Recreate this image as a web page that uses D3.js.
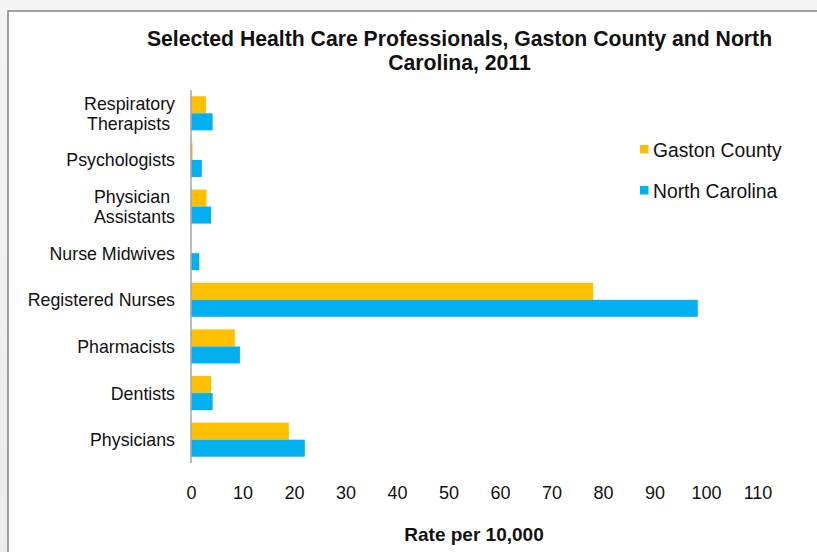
<!DOCTYPE html>
<html>
<head>
<meta charset="utf-8">
<script src="https://cdn.jsdelivr.net/npm/d3@7"></script>
<style>
  html, body { margin: 0; padding: 0; background: #ffffff; }
  svg { display: block; font-family: "Liberation Sans", Arial, sans-serif; }
  .cat { white-space: pre; }
</style>
</head>
<body>
<svg id="chart" width="817" height="552"></svg>
<script>
// Professions, listed top to bottom
const categories = [
  "Respiratory Therapists",
  "Psychologists",
  "Physician Assistants",
  "Nurse Midwives",
  "Registered Nurses",
  "Pharmacists",
  "Dentists",
  "Physicians"
];
// Rate per 10,000 population
const gastonValues = [2.9, 0.3, 3.0, 0, 78.1, 8.5, 3.9, 19.0];
const ncValues     = [4.2, 2.1, 3.9, 1.6, 98.4, 9.5, 4.2, 22.1];
const seriesNames  = ["Gaston County", "North Carolina"];
const seriesColors = ["#FFC000", "#00B0F0"];
const xTicks = [0, 10, 20, 30, 40, 50, 60, 70, 80, 90, 100, 110];

const svg = d3.select("#chart");
const W = 817, H = 552;

// frame with a soft grey surround
const defs = svg.append("defs");
const grad = defs.append("linearGradient").attr("id", "bg").attr("x1", 0).attr("y1", 0).attr("x2", 0).attr("y2", 1);
grad.append("stop").attr("offset", "0%").attr("stop-color", "#f4f4f4");
grad.append("stop").attr("offset", "100%").attr("stop-color", "#ececec");
svg.append("rect").attr("width", W).attr("height", H).attr("fill", "url(#bg)");
svg.append("rect").attr("x", 9).attr("y", 12).attr("width", W).attr("height", H)
  .attr("fill", "none").attr("stroke", "#d6d6d6").attr("stroke-width", 3);
svg.append("rect").attr("x", 8).attr("y", 11).attr("width", W).attr("height", H)
  .attr("fill", "#ffffff").attr("stroke", "#858585").attr("stroke-width", 1.5);

const x = d3.scaleLinear().domain([0, 110]).range([191, 757.5]);
const y = d3.scaleBand().domain(categories).range([90, 463]).paddingInner(0.27).paddingOuter(0.135);
const ySub = d3.scaleBand().domain(seriesNames).range([0, y.bandwidth()]);

const rows = categories.map((c, i) => ({ cat: c, vals: [gastonValues[i], ncValues[i]] }));

// bars
const g = svg.append("g");
rows.forEach(r => {
  r.vals.forEach((v, j) => {
    if (v <= 0) return;
    g.append("rect")
      .attr("x", x(0))
      .attr("y", y(r.cat) + ySub(seriesNames[j]))
      .attr("width", x(v) - x(0))
      .attr("height", ySub.bandwidth())
      .attr("fill", seriesColors[j]);
  });
});

// vertical axis line
svg.append("line").attr("x1", x(0)).attr("x2", x(0)).attr("y1", 90).attr("y2", 463)
  .attr("stroke", "#a6a6a6").attr("stroke-width", 1.5);

// category labels (two-line where wrapped)
const labelLines = {
  "Respiratory Therapists": ["Respiratory", "Therapists "],
  "Physician Assistants": ["Physician ", "Assistants"]
};
categories.forEach(c => {
  const lines = labelLines[c] || [c];
  const cy = y(c) + y.bandwidth() / 2;
  const t = svg.append("text").attr("class", "cat").attr("text-anchor", "end")
    .attr("font-size", 17.8).attr("fill", "#111");
  lines.forEach((ln, k) => {
    t.append("tspan").attr("x", 175)
      .attr("y", cy + 6.5 + (k - (lines.length - 1) / 2) * 19.5)
      .text(ln);
  });
});

// x axis tick labels
const xAxis = d3.axisBottom(x).tickValues(xTicks).tickSize(0).tickPadding(0);
const ax = svg.append("g").attr("transform", "translate(0,486)").call(xAxis);
ax.select(".domain").remove();
ax.selectAll("text").attr("font-size", 18).attr("fill", "#111")
  .attr("font-family", "Liberation Sans, Arial, sans-serif");

// axis title
svg.append("text").attr("x", 474).attr("y", 541).attr("text-anchor", "middle")
  .attr("font-size", 19).attr("font-weight", "bold").attr("fill", "#111")
  .text("Rate per 10,000");

// chart title
const title = svg.append("text").attr("text-anchor", "middle").attr("font-size", 21.2)
  .attr("font-weight", "bold").attr("fill", "#111");
title.append("tspan").attr("x", 459.5).attr("y", 46).text("Selected Health Care Professionals, Gaston County and North");
title.append("tspan").attr("x", 459.5).attr("y", 70).text("Carolina, 2011");

// legend
const legend = svg.append("g");
seriesNames.forEach((n, i) => {
  const ly = 157 + i * 41;
  legend.append("rect").attr("x", 640).attr("y", ly - 12).attr("width", 8.5).attr("height", 8.5)
    .attr("fill", seriesColors[i]);
  legend.append("text").attr("x", 653).attr("y", ly).attr("font-size", 19.3).attr("fill", "#111").text(n);
});
</script>
</body>
</html>
